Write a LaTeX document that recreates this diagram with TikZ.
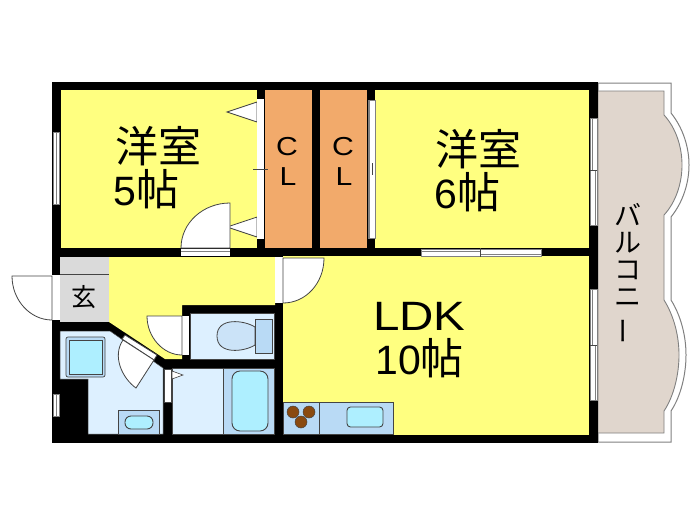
\documentclass[tikz,border=0pt]{standalone}
\usepackage{fontspec}
\setmainfont{Liberation Sans}
\newfontfamily\cjk{Noto Sans CJK JP}
\newfontfamily\wide[FakeStretch=1.16]{Liberation Sans}
\newcommand{\bigcjk}{\cjk\fontsize{43}{43}\selectfont}
\definecolor{roomyellow}{HTML}{FFFF80}
\definecolor{closet}{HTML}{F2AA6B}
\definecolor{wetblue}{HTML}{DDF0FF}
\definecolor{fixture}{HTML}{B9DAF5}
\definecolor{basin}{HTML}{AEEFFF}
\definecolor{genkan}{HTML}{DADADA}
\definecolor{balcony}{HTML}{E0D6CD}
\definecolor{burner}{HTML}{8A4A10}
\definecolor{edge}{HTML}{444444}
\tikzset{
  room/.style={fill=roomyellow},
  wet/.style={fill=wetblue,draw=edge,line width=0.5pt},
  unit/.style={fill=fixture,draw=edge,line width=0.7pt},
  bowl/.style={fill=basin,draw=edge,line width=0.9pt,rounded corners=3.5pt},
  leaf/.style={fill=white,draw=edge,line width=0.8pt},
  sash/.style={fill=white,draw=gray,line width=0.9pt},
  tick/.style={draw=edge,line width=0.5pt},
  rail/.style={draw=gray,line width=0.6pt},
  roomlabel/.style={inner sep=0pt,anchor=base west,font=\fontsize{41}{41}\selectfont},
  closetlabel/.style={inner sep=0pt,font=\wide\fontsize{26}{26}\selectfont},
  kana/.style={inner sep=0pt,font=\cjk\fontsize{27}{27}\selectfont}
}
\begin{document}
\begin{tikzpicture}[x=1pt, y=-1pt]
  \useasboundingbox (0,0) rectangle (700,525);
  % balcony
  \draw[fill=white,draw=gray,line width=1pt] (598,83) -- (671,83) -- (671,113)
    .. controls (683,128) and (689,147) .. (689,165)
    .. controls (689,183) and (683,202) .. (671,217) -- (671,300)
    .. controls (681,316) and (686,336) .. (686,355)
    .. controls (686,374) and (681,396) .. (671,411) -- (671,442) -- (598,442) -- cycle;
  \draw[fill=balcony,draw=gray,line width=0.9pt] (598,91) -- (664,91) -- (664,115)
    .. controls (676,128) and (682,147) .. (682,165)
    .. controls (682,183) and (676,202) .. (664,215) -- (664,300)
    .. controls (674,316) and (679,336) .. (679,355)
    .. controls (679,374) and (674,396) .. (664,411) -- (664,433) -- (598,433) -- cycle;
  % walls and rooms
  \fill (52,82) rectangle (598,443);
  \fill[room] (61,90) rectangle (257,248);
  \fill[room] (375,90) rectangle (589,248);
  \fill[room] (283,256) rectangle (589,435);
  \fill[room] (109,257) -- (275,257) -- (275,305) -- (182,305) -- (182,359) -- (165,359) -- (109,322) -- cycle;
  \fill[closet] (265,90) rectangle (312,248);
  \fill[closet] (320,90) rectangle (367,248);
  \fill[genkan] (60,257) rectangle (109,322);
  \draw[edge,line width=0.8pt] (60,274) -- (109,274);
  \fill[wet] (60,331) -- (110,331) -- (163,368) -- (163,434) -- (88,434) -- (88,379) -- (60,379) -- cycle;
  \fill[wet] (190,313) rectangle (274,359);
  \fill[wet] (172,368) rectangle (223,434);
  \fill[unit] (223,368) rectangle (274,434);
  % windows
  \foreach \ya/\yb/\ym in {118/225/170, 289/400/345} {
    \draw[sash] (590,\ya) rectangle (597,\yb);
    \draw[rail] (592,\ya) -- (592,\ym);
    \draw[rail] (595,\ym) -- (595,\yb);
    \draw[tick] (590,\ym) -- (597,\ym);
  }
  \draw[sash] (53,132) rectangle (59,204);
  \draw[rail] (56,132) -- (56,204);
  \draw[sash] (53,394) rectangle (59,416);
  \draw[rail] (56,394) -- (56,416);
  \draw[sash] (421,249) rectangle (541,256);
  \draw[rail] (421,251) -- (480,251);
  \draw[rail] (480,254) -- (541,254);
  \draw[tick] (480,248) -- (480,257);
  \draw[sash] (368,100) rectangle (375,238);
  \draw[rail,line width=1.4pt] (369,100) -- (369,238);
  \draw[tick] (372,163) -- (372,175);
  % closet doors
  \draw[leaf] (257,102) -- (227,112) -- (257,122) -- cycle;
  \draw[leaf] (257,217) -- (227,227) -- (257,237) -- cycle;
  \fill[white] (257,99) rectangle (264,239);
  \draw[tick] (253,169) -- (268,169);
  % doors
  \fill[white] (181,249) rectangle (230,256);
  \draw[rail] (181,251) -- (230,251);
  \draw[leaf] (230,248) -- (181,248) .. controls (181,223) and (203,203) .. (230,203) -- cycle;
  \fill[white] (52,275) rectangle (60,320);
  \draw[leaf] (52,276) -- (12,276) .. controls (12,300) and (30,320) .. (52,320) -- cycle;
  \fill[white] (182,316) rectangle (189,355);
  \draw[leaf] (182,316) -- (147,316) .. controls (147,337) and (163,355) .. (182,355) -- cycle;
  \fill[white] (275,257) rectangle (283,303);
  \draw[leaf] (283,258) -- (324,258) .. controls (324,283) and (306,303) .. (283,303) -- cycle;
  \draw[leaf] (125,335) -- (157,355) -- (154,360) -- (122,339) -- cycle;
  \draw[leaf] (154,360) -- (136,388) .. controls (122,378) and (112,356) .. (123,340) -- cycle;
  \draw[leaf,line width=0.5pt] (164,369) rectangle (171,402);
  \draw[leaf,line width=0.6pt] (172,371) -- (183,375) -- (172,379) -- cycle;
  % toilet
  \draw[fill=fixture!75!white,draw=edge,line width=0.8pt] (255,327) .. controls (244,320) and (217,317) .. (217,336)
    .. controls (217,355) and (244,352) .. (255,345) -- cycle;
  \draw[unit] (255,319) rectangle (272,353);
  % wash room and bath
  \draw[unit,rounded corners=2pt] (66,337) rectangle (105,377);
  \draw[fill=basin,draw=edge,line width=0.8pt] (69,340) rectangle (102,374);
  \draw[unit] (118,410) rectangle (159,434);
  \draw[bowl,rounded corners=6pt] (125,416) rectangle (153,429);
  \draw[bowl,rounded corners=8pt] (232,371) rectangle (268,431);
  % kitchen
  \draw[unit] (283,402) rectangle (393,434);
  \draw[edge,line width=0.7pt] (319,402) -- (319,434);
  \draw[bowl] (347,407) rectangle (383,427);
  \foreach \cx/\cy in {293/412, 309/412, 301/422}
    \draw[fill=burner,draw=edge,line width=0.5pt] (\cx,\cy) circle (6);
  % labels
  \node[roomlabel] (west1) at (115,162) {\bigcjk 洋室};
  \node[roomlabel] (west2) at (113,205) {5\bigcjk 帖};
  \node[roomlabel] (east1) at (435,165) {\bigcjk 洋室};
  \node[roomlabel] (east2) at (434,208) {6\bigcjk 帖};
  \node[roomlabel,font=\wide\fontsize{41}{41}\selectfont] (ldk) at (373,330) {LDK};
  \node[roomlabel] (ten) at (375,374) {10\bigcjk 帖};
  \node[closetlabel] (cla) at (287,147) {C};
  \node[closetlabel] (clb) at (288,177) {L};
  \node[closetlabel] (clc) at (343,147) {C};
  \node[closetlabel] (cld) at (344,177) {L};
  \node[inner sep=0pt,font=\cjk\fontsize{25}{25}\selectfont] (gen) at (84,297) {玄};
  \node[kana] (ba) at (628,215) {バ};
  \node[kana] (ru) at (628,243) {ル};
  \node[kana] (ko) at (628,270) {コ};
  \node[kana] (ni) at (628,298) {ニ};
  \node[kana,rotate=90] (bar) at (628,331) {ー};
\end{tikzpicture}
\end{document}
